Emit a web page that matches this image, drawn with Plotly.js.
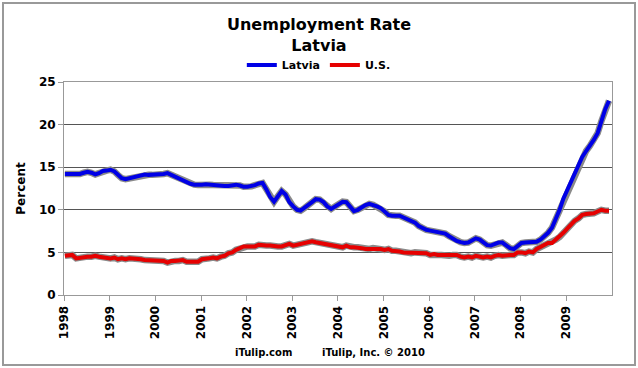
<!DOCTYPE html>
<html>
<head>
<meta charset="utf-8">
<script src="https://cdn.plot.ly/plotly-3.0.1.min.js"></script>
<style>
  html, body { margin: 0; padding: 0; background: #fff; }
  #wrap { position: relative; width: 638px; height: 368px; }
  #chart { width: 638px; height: 368px; }
  #frame { position: absolute; left: 2px; top: 2px; width: 630px; height: 360px;
           border: 2px solid #999; pointer-events: none; }
</style>
</head>
<body>
<div id="wrap"><div id="chart"></div><div id="frame"></div></div>
<script>
const years = [1998, 1999, 2000, 2001, 2002, 2003, 2004, 2005, 2006, 2007, 2008, 2009];
const tickLabels = ["1998","1999","2000","2001","2002","2003","2004","2005","2006","2007","2008","2009"];
const seriesNames = ["Latvia", "U.S."];

const latvia = [
  14.2, 14.2, 14.15, 14.1, 14.2, 14.35, 14.45, 14.35, 14.15, 14.3, 14.55, 14.6,
  14.7, 14.5, 14.1, 13.7, 13.6, 13.7, 13.8, 13.9, 14.05, 14.15, 14.1, 14.1,
  14.1, 14.1, 14.2, 14.3, 14.1, 13.8, 13.6, 13.4, 13.2, 13.05, 12.95, 12.9,
  12.95, 13.0, 12.95, 12.9, 12.9, 12.85, 12.8, 12.8, 12.9, 12.95, 12.85, 12.7,
  12.7, 12.75, 12.9, 13.1, 13.15, 12.4, 11.5, 10.95, 11.6, 12.2, 11.8, 10.9,
  10.4, 10.0, 9.9, 10.2, 10.5, 10.9, 11.25, 11.2, 10.9, 10.4, 10.1, 10.4,
  10.7, 10.95, 10.9, 10.3, 9.85, 10.0, 10.3, 10.55, 10.7, 10.6, 10.4, 10.2,
  9.8, 9.4, 9.3, 9.3, 9.3, 9.1, 8.9, 8.8, 8.5, 8.1, 7.8, 7.65,
  7.55, 7.45, 7.4, 7.35, 7.2, 6.9, 6.6, 6.35, 6.2, 6.1, 6.15, 6.4,
  6.65, 6.5, 6.15, 5.85, 5.8, 5.95, 6.15, 6.15, 5.85, 5.5, 5.4, 5.8,
  6.1, 6.15, 6.15, 6.15, 6.25, 6.5, 6.85, 7.3, 7.9, 8.9, 10.0, 11.3,
  12.3, 13.2, 14.2, 15.2, 16.2, 16.9, 17.5, 18.2, 19.0, 20.4, 21.8, 22.8
];

const us = [
  4.6, 4.6, 4.7, 4.3, 4.4, 4.5, 4.5, 4.5, 4.6, 4.5, 4.4, 4.4,
  4.3, 4.4, 4.2, 4.3, 4.2, 4.3, 4.3, 4.2, 4.2, 4.1, 4.1, 4.0,
  4.0, 4.1, 4.0, 3.8, 4.0, 4.0, 4.0, 4.1, 3.9, 3.9, 3.9, 3.9,
  4.2, 4.2, 4.3, 4.4, 4.3, 4.5, 4.6, 4.9, 5.0, 5.3, 5.5, 5.7,
  5.7, 5.7, 5.7, 5.9, 5.8, 5.8, 5.8, 5.7, 5.7, 5.7, 5.9, 6.0,
  5.8, 5.9, 5.9, 6.0, 6.1, 6.3, 6.2, 6.1, 6.1, 6.0, 5.8, 5.7,
  5.7, 5.6, 5.8, 5.6, 5.6, 5.6, 5.5, 5.4, 5.4, 5.5, 5.4, 5.4,
  5.3, 5.4, 5.2, 5.2, 5.1, 5.0, 5.0, 4.9, 5.0, 5.0, 5.0, 4.9,
  4.7, 4.8, 4.7, 4.7, 4.6, 4.6, 4.7, 4.7, 4.5, 4.4, 4.5, 4.4,
  4.6, 4.5, 4.4, 4.5, 4.4, 4.6, 4.7, 4.6, 4.7, 4.7, 4.7, 5.0,
  5.0, 4.9, 5.1, 5.0, 5.4, 5.6, 5.8, 6.1, 6.1, 6.5, 6.8, 7.3,
  7.8, 8.3, 8.7, 9.0, 9.4, 9.5, 9.5, 9.6, 9.8, 10.0, 9.9, 9.9
];

// monthly date strings built from the years list
const dates = [];
years.forEach(y => { for (let m = 1; m <= 12; m++) dates.push(y + "-" + String(m).padStart(2, "0") + "-08"); });
const tickVals = years.map(y => y + "-01-01");

const FONT = "DejaVu Sans, Verdana, sans-serif";
const shadow = (ys) => ({ x: dates, y: ys, type: "scatter", mode: "lines", showlegend: false, hoverinfo: "skip",
  line: { color: "#8a8a8a", width: 6.5 } });

const traces = [
  shadow(latvia),
  shadow(us),
  { x: dates, y: latvia, name: seriesNames[0], type: "scatter", mode: "lines", line: { color: "#0000e6", width: 4 } },
  { x: dates, y: us, name: seriesNames[1], type: "scatter", mode: "lines", line: { color: "#e60000", width: 4 } }
];

const layout = {
  width: 638, height: 368,
  margin: { l: 64, r: 26, t: 82, b: 73 },
  paper_bgcolor: "#fff", plot_bgcolor: "#fff",
  font: { family: FONT, color: "#000" },
  title: { text: "<b>Unemployment Rate<br>Latvia</b>", x: 0.5, xanchor: "center", y: 0.918, yanchor: "middle",
           font: { family: FONT, size: 16, color: "#000" } },
  showlegend: true,
  legend: { orientation: "h", x: 0.465, xanchor: "center", y: 1.08, yanchor: "middle",
            font: { family: FONT, size: 11, color: "#000", weight: "bold" }, itemwidth: 30, bgcolor: "rgba(0,0,0,0)" },
  xaxis: {
    type: "date", range: ["1998-01-01", "2010-01-01"],
    tickmode: "array", tickvals: tickVals, ticktext: tickLabels.map(t => "<b>" + t + "</b>"),
    tickangle: -90, tickfont: { family: FONT, size: 12, color: "#000" },
    ticks: "outside", ticklen: 5, tickcolor: "#999",
    showgrid: false, showline: true, linecolor: "#999", linewidth: 1, mirror: true, zeroline: false
  },
  yaxis: {
    range: [0, 25], tickvals: [0, 5, 10, 15, 20, 25], ticktext: ["<b>0</b>","<b>5</b>","<b>10</b>","<b>15</b>","<b>20</b>","<b>25</b>"],
    tickfont: { family: FONT, size: 12, color: "#000" },
    ticks: "outside", ticklen: 5, tickcolor: "#999",
    showgrid: true, gridcolor: "#555", gridwidth: 1,
    showline: true, linecolor: "#999", linewidth: 1, mirror: true, zeroline: false,
    title: { text: "<b>Percent</b>", font: { family: FONT, size: 12, color: "#000" }, standoff: 10 }
  },
  annotations: [
    { text: "<b>iTulip.com</b>", xref: "paper", yref: "paper", x: 0.364, y: -0.27, showarrow: false,
      font: { family: FONT, size: 10, color: "#000" }, xanchor: "center", yanchor: "middle" },
    { text: "<b>iTulip, Inc. © 2010</b>", xref: "paper", yref: "paper", x: 0.564, y: -0.27, showarrow: false,
      font: { family: FONT, size: 10, color: "#000" }, xanchor: "center", yanchor: "middle" }
  ]
};

Plotly.newPlot("chart", traces, layout, { displayModeBar: false, staticPlot: true });
</script>
</body>
</html>
